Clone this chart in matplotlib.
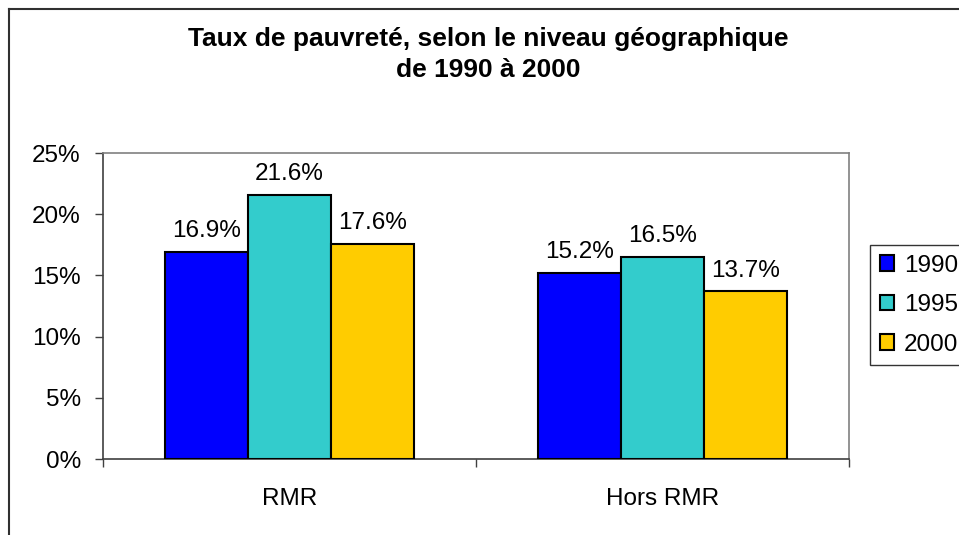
import numpy as np
import matplotlib
matplotlib.use("Agg")
import matplotlib.pyplot as plt
from matplotlib.lines import Line2D
from matplotlib.ticker import PercentFormatter

plt.rcParams['font.family'] = ['Liberation Sans', 'DejaVu Sans']

# Data
categories = ["RMR", "Hors RMR"]
years = ["1990", "1995", "2000"]
rate_1990 = [16.9, 15.2]
rate_1995 = [21.6, 16.5]
rate_2000 = [17.6, 13.7]
colors = ["#0000FF", "#33CCCC", "#FFCC00"]

W, H = 959, 535
fig = plt.figure(figsize=(W / 100, H / 100), dpi=100)
ax = fig.add_axes([103 / W, 1 - 459 / H, (849 - 103) / W, (459 - 153) / H])

x = np.arange(len(categories))
width = 0.223
series = [rate_1990, rate_1995, rate_2000]
for i, (vals, col, yr) in enumerate(zip(series, colors, years)):
    bars = ax.bar(x + (i - 1) * width, vals, width, color=col, edgecolor="black",
                  linewidth=1.5, label=yr, zorder=3)
    ax.bar_label(bars, labels=[f"{v:.1f}%" for v in vals], padding=7, fontsize=17.5)

ax.set_xlim(-0.5, 1.5)
ax.set_ylim(0, 25)
ax.set_yticks(np.arange(0, 26, 5))
ax.yaxis.set_major_formatter(PercentFormatter(decimals=0))
ax.set_xticks(x)
ax.set_xticklabels(categories)
ax.set_xticks([-0.5, 0.5, 1.5], minor=True)
ax.tick_params(axis="x", which="major", length=0, pad=21, labelsize=17.5)
ax.tick_params(axis="x", which="minor", length=6, width=1, color="#404040")
ax.tick_params(axis="y", length=6, width=1, color="#404040", pad=10, labelsize=17.5)

for side in ["top", "right"]:
    ax.spines[side].set_color("#808080")
    ax.spines[side].set_linewidth(1.2)
for side in ["left", "bottom"]:
    ax.spines[side].set_color("#404040")
    ax.spines[side].set_linewidth(1.2)

leg = ax.legend(loc="upper left", bbox_to_anchor=(870 / W, 1 - 245 / H),
                bbox_transform=fig.transFigure, fontsize=17.5, frameon=True,
                fancybox=False, edgecolor="black", handlelength=0.6,
                handleheight=0.6, handletextpad=0.4, labelspacing=0.72,
                borderpad=0.4, borderaxespad=0)
leg.get_frame().set_linewidth(1)

fig.text(488 / W, 1 - 27 / H, "Taux de pauvreté, selon le niveau géographique\nde 1990 à 2000",
         ha="center", va="top", fontsize=19, fontweight="bold", linespacing=1.38)

# outer chart frame
fig.add_artist(Line2D([9 / W, 1], [1 - 9 / H, 1 - 9 / H], color="#303030", linewidth=1.5))
fig.add_artist(Line2D([9 / W, 9 / W], [0, 1 - 9 / H], color="#303030", linewidth=1.5))

fig.savefig("out.png", dpi=100)
